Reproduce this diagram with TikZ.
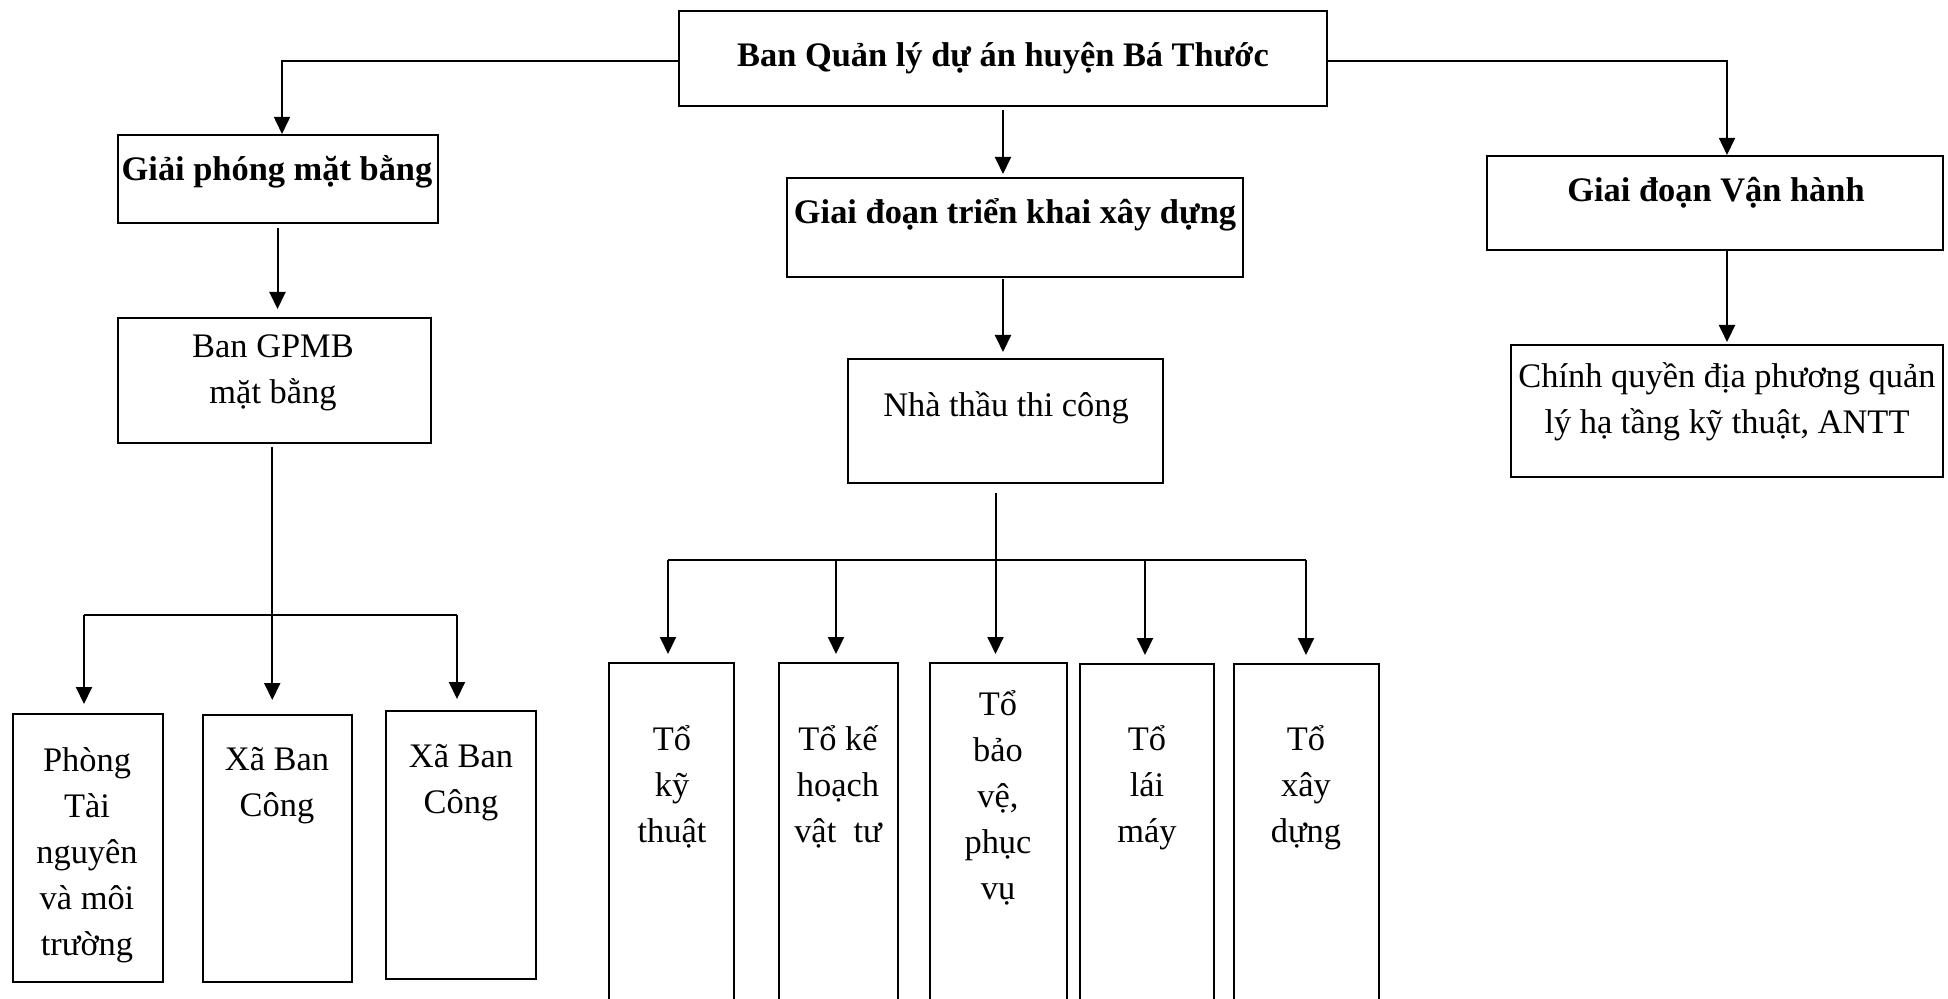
\documentclass[tikz,border=0pt]{standalone}
\usepackage{fontspec}
\setmainfont{Liberation Serif}
\usetikzlibrary{arrows.meta,calc,fit}
\begin{document}
\begin{tikzpicture}[x=0.5pt,y=-0.5pt,
  box/.style={draw, line width=1pt, inner sep=0pt, fit={#1}},
  txt/.style={inner sep=0pt, align=center, font=\fontsize{17.2}{23}\selectfont},
  btxt/.style={inner sep=0pt, align=center, font=\fontsize{17.2}{23}\selectfont\bfseries},
  ln/.style={line width=1pt},
  arr/.style={-{Triangle[width=8pt,length=8.5pt]}, line width=1pt},
  tarr/.style={-{Triangle[width=8pt,length=8.5pt]}, line width=0.8pt}]
\clip (0,0) rectangle (1948,999);
\fill[white] (0,0) rectangle (1948,999);
% boxes
\node[box={(679,11) (1327,106)}] (top) {};
\node[box={(117.5,135) (437.5,223)}] (gp) {};
\node[box={(117.5,318) (431,443)}] (ban) {};
\node[box={(787,178) (1243,277)}] (tk) {};
\node[box={(848,359) (1163,483)}] (nt) {};
\node[box={(1487,156) (1943,250)}] (vh) {};
\node[box={(1511,345) (1943,477)}] (cq) {};
\node[box={(12.5,714) (162.5,982)}] (phong) {};
\node[box={(203,715) (352,982)}] (xbc1) {};
\node[box={(386,711) (536,979)}] (xbc2) {};
\node[box={(609,663) (734,1020)}] (tokt) {};
\node[box={(779,663) (898,1020)}] (tokh) {};
\node[box={(930,663) (1067,1020)}] (tobv) {};
\node[box={(1080,664) (1214,1020)}] (tolm) {};
\node[box={(1234,664) (1379,1020)}] (toxd) {};
% texts
\node[btxt] (t0) at (1003,58) {Ban Quản lý dự án huyện Bá Thước};
\node[btxt] (t1) at (277,172) {Giải phóng mặt bằng};
\node[txt] (t2) at (273,373) {Ban GPMB\\mặt bằng};
\node[btxt] (t3) at (1015,215) {Giai đoạn triển khai xây dựng};
\node[txt] (t4) at (1006,408) {Nhà thầu thi công};
\node[btxt] (t5) at (1716,193) {Giai đoạn Vận hành};
\node[txt] (t6) at (1727,402) {Chính quyền địa phương quản\\lý hạ tầng kỹ thuật, ANTT};
\node[txt] (t7) at (87,855) {Phòng\\Tài\\nguyên\\và môi\\trường};
\node[txt] (t8) at (277,786) {Xã Ban\\Công};
\node[txt] (t9) at (461,783) {Xã Ban\\Công};
\node[txt] (t10) at (672,787) {Tổ\\kỹ\\thuật};
\node[txt] (t11) at (838,787) {Tổ kế\\hoạch\\vật\ \ tư};
\node[txt] (t12) at (998,798) {Tổ\\bảo\\vệ,\\phục\\vụ};
\node[txt] (t13) at (1147,788) {Tổ\\lái\\máy};
\node[txt] (t14) at (1306,788) {Tổ\\xây\\dựng};
% connectors from the top box
\coordinate (cL) at (282,61);
\coordinate (cR) at (1727,61);
\draw[tarr] (top.west |- cL) -- (cL) -- (cL |- gp.north);
\draw[tarr] (top.east |- cR) -- (cR) -- (cR |- vh.north);
\draw[arr, shorten >=1.5pt] ($(top.south)+(0,3)$) -- (top.south |- tk.north);
% second level
\draw[arr, shorten >=4pt] ($(gp.south)+(0,4)$) -- (gp.south |- ban.north);
\draw[arr, shorten >=3pt] ($(top.south |- tk.south)+(0,1)$) -- (top.south |- nt.north);
\draw[arr, shorten >=1pt] (cR |- vh.south) -- (cR |- cq.north);
% left cluster
\coordinate (bl) at (84,615);
\coordinate (br) at (457,615);
\draw[ln] (bl) -- (br);
\draw[arr, shorten >=4.5pt] (bl) -- (bl |- phong.north);
\draw[arr, shorten >=5.5pt] (br) -- (br |- xbc2.north);
\draw[arr, shorten >=7pt] ($(ban.south)+(-2,3)$) -- ($(ban.south |- xbc1.north)+(-2,0)$);
% right cluster
\coordinate (rl) at (668,560);
\coordinate (r2) at (836,560);
\coordinate (r4) at (1145,560);
\coordinate (rr) at (1306,560);
\draw[ln] (rl) -- (rr);
\draw[arr, shorten >=4pt] (rl) -- (rl |- tokt.north);
\draw[arr, shorten >=4pt] (r2) -- (r2 |- tokh.north);
\draw[arr, shorten >=4pt] (r4) -- (r4 |- tolm.north);
\draw[arr, shorten >=4pt] (rr) -- (rr |- toxd.north);
\draw[arr, shorten >=4pt] ($(nt.south)+(-10,9)$) -- ($(nt.south |- tobv.north)+(-10,0)$);
\end{tikzpicture}
\end{document}
